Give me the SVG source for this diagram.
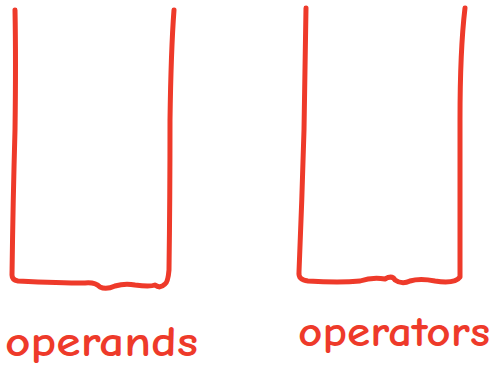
<svg xmlns="http://www.w3.org/2000/svg" width="495" height="378" viewBox="0 0 495 378">
<style>
.stk{fill:none;stroke:#ee3a2a;stroke-width:5;stroke-linecap:round;stroke-linejoin:round}
.lbl{font-family:"Comic Neue","Liberation Sans",sans-serif;font-size:42px;fill:#ee3a2a;font-weight:bold}
</style>
<rect width="495" height="378" fill="#fff"/>
<g id="operands">
<path class="stk" d="M15,10 Q16,60 15,130 Q13,200 12,275 Q12,280 18,281 Q60,283 85,283 Q95,282 100,287 Q106,290 115,286 Q125,283 135,285 Q150,287 155,285 Q160,289 165,284 Q168,282 169,270 Q170,200 170,120 Q171,50 174,10"/>
<text class="lbl" x="5" y="356" textLength="193" lengthAdjust="spacingAndGlyphs">operands</text>
</g>
<g id="operators">
<path class="stk" d="M306,8 Q305,60 304,130 Q302,200 299,272 Q298,280 308,281 Q340,283 360,281 Q372,277 385,279 Q392,275 395,280 Q402,285 410,281 Q420,278 435,281 Q455,284 460,277 Q460,200 460,120 Q460,50 465,8"/>
<text class="lbl" x="298" y="346" textLength="192" lengthAdjust="spacingAndGlyphs">operators</text>
</g>
<g id="connectors"></g>
</svg>
